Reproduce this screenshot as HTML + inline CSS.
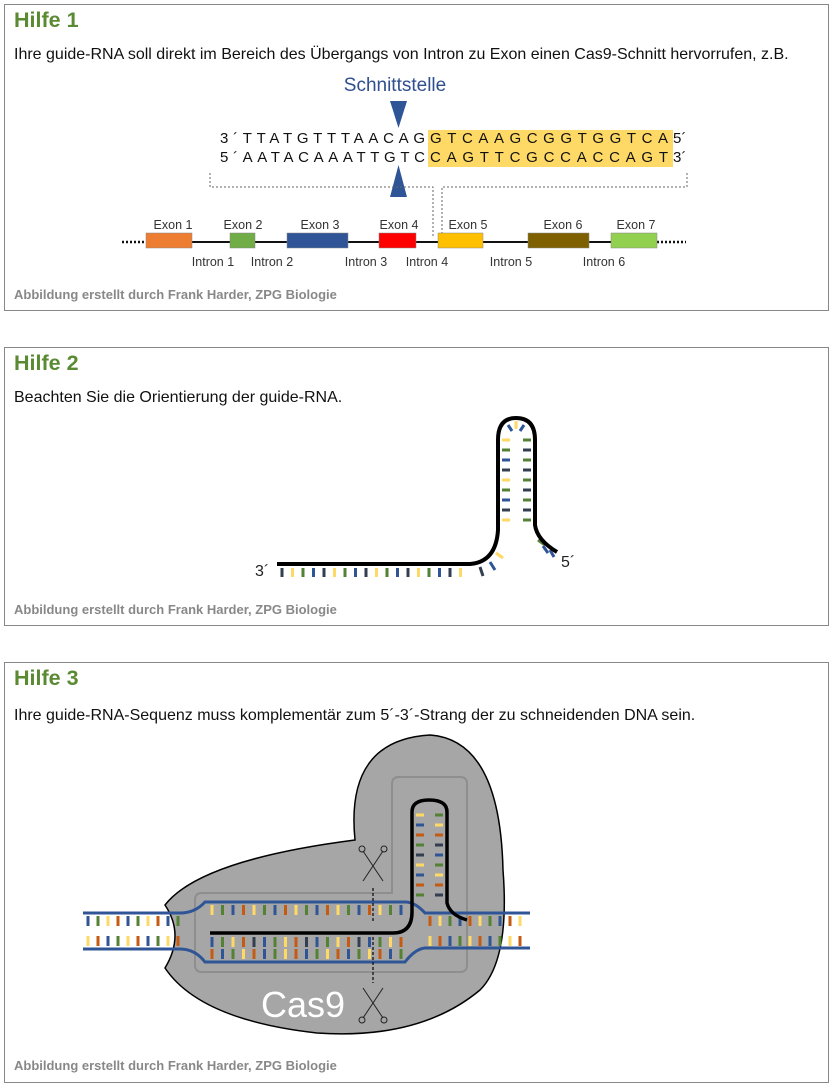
<!DOCTYPE html>
<html><head><meta charset="utf-8">
<style>
body{margin:0;background:#fff;font-family:"Liberation Sans",sans-serif;}
.box{position:absolute;left:4px;width:825px;border:1px solid #888;box-sizing:border-box;}
.t{position:absolute;left:9px;font-weight:bold;font-size:21.5px;color:#5a8a32;}
.p{position:absolute;left:9px;font-size:16px;color:#111;}
.c{position:absolute;left:9px;font-size:13px;font-weight:bold;color:#888;}
svg{position:absolute;left:0;top:0;}
</style></head><body>
<div class="box" style="top:4px;height:307px"><div class="t" style="top:3px">Hilfe 1</div><div class="p" style="top:41px">Ihre guide-RNA soll direkt im Bereich des Übergangs von Intron zu Exon einen Cas9-Schnitt hervorrufen, z.B.</div><div class="c" style="top:282px">Abbildung erstellt durch Frank Harder, ZPG Biologie</div></div>
<div class="box" style="top:347px;height:279px"><div class="t" style="top:3px">Hilfe 2</div><div class="p" style="top:41px">Beachten Sie die Orientierung der guide-RNA.</div><div class="c" style="top:254px">Abbildung erstellt durch Frank Harder, ZPG Biologie</div></div>
<div class="box" style="top:662px;height:421px"><div class="t" style="top:3px">Hilfe 3</div><div class="p" style="top:44px">Ihre guide-RNA-Sequenz muss komplementär zum 5´-3´-Strang der zu schneidenden DNA sein.</div><div class="c" style="top:395px">Abbildung erstellt durch Frank Harder, ZPG Biologie</div></div>

<svg width="835" height="1088" id="s" font-family="Liberation Sans, sans-serif">
<!-- Hilfe 1 -->
<text x="395" y="91" font-size="19" fill="#2f4f8f" text-anchor="middle">Schnittstelle</text>
<polygon points="390,101 407,101 398.5,128" fill="#2f5597"/>
<polygon points="390,197 407,197 398.5,165" fill="#2f5597"/>
<rect x="428" y="130" width="245" height="37" fill="#ffd966"/>
<g font-size="15" fill="#111">
<text x="220" y="143" textLength="205" lengthAdjust="spacing">3´TTATGTTTAACAG</text>
<text x="430" y="143" textLength="238" lengthAdjust="spacing">GTCAAGCGGTGGTCA</text>
<text x="673" y="143">5´</text>
<text x="220" y="162" textLength="205" lengthAdjust="spacing">5´AATACAAATTGTC</text>
<text x="430" y="162" textLength="238" lengthAdjust="spacing">CAGTTCGCCACCAGT</text>
<text x="673" y="162">3´</text>
</g>
<g stroke="#666" stroke-dasharray="2,2" fill="none" stroke-width="1">
<path d="M210,173 V187 H433 V238"/><path d="M687,173 V187 H442 V243"/>
</g>
<line x1="122" y1="242" x2="146" y2="242" stroke="#111" stroke-width="2.5" stroke-dasharray="2,2"/>
<line x1="146" y1="242" x2="657" y2="242" stroke="#111" stroke-width="2"/>
<line x1="657" y1="242" x2="686" y2="242" stroke="#111" stroke-width="2.5" stroke-dasharray="2,2"/>
<g stroke="#888" stroke-width="0.5">
<rect x="146" y="233" width="46" height="15" fill="#ed7d31"/>
<rect x="230" y="233" width="25" height="15" fill="#70ad47"/>
<rect x="287" y="233" width="61" height="15" fill="#2f5597"/>
<rect x="379" y="233" width="37" height="15" fill="#ff0000"/>
<rect x="438" y="233" width="45" height="15" fill="#ffc000"/>
<rect x="528" y="233" width="61" height="15" fill="#7f6000"/>
<rect x="611" y="233" width="46" height="15" fill="#92d050"/>
</g>
<g font-size="12.5" fill="#333" text-anchor="middle">
<text x="173" y="229">Exon 1</text><text x="243" y="229">Exon 2</text><text x="320" y="229">Exon 3</text><text x="399" y="229">Exon 4</text><text x="468" y="229">Exon 5</text><text x="563" y="229">Exon 6</text><text x="636" y="229">Exon 7</text>
<text x="213" y="266">Intron 1</text><text x="272" y="266">Intron 2</text><text x="366" y="266">Intron 3</text><text x="427" y="266">Intron 4</text><text x="511" y="266">Intron 5</text><text x="604" y="266">Intron 6</text>
</g>
<!-- Hilfe 2 -->
<g id="t2"></g>
<path d="M277,564 H470 Q496,562 498,530 V440 Q498,418 516,418 Q535,418 535,440 V525 Q537,540 557,552" stroke="#000" stroke-width="4" fill="none"/>
<text x="255" y="576" font-size="16" fill="#222">3´</text>
<text x="561" y="567" font-size="16" fill="#222">5´</text>
<!-- Hilfe 3 -->
<path d="M165,905 Q200,860 355,840 Q345,740 430,735 Q500,740 503,870 Q510,960 480,990 Q420,1040 317,1033 Q200,1020 165,968 Q185,935 165,905 Z" fill="#a6a6a6" stroke="#000" stroke-width="1.5"/>
<path d="M195,900 Q195,893 202,893 H392 V784 Q392,777 399,777 H460 Q467,777 467,784 V965 Q467,972 460,972 H202 Q195,972 195,965 Z" fill="none" stroke="#8e8e8e" stroke-width="2"/>
<g id="t3"></g>
<path d="M83,913 H180 Q195,913 205,902 H405 Q415,902 425,913 H530" stroke="#2f5597" stroke-width="3" fill="none"/>
<path d="M83,949 H180 Q195,949 205,962 H405 Q415,949 425,948 H530" stroke="#2f5597" stroke-width="3" fill="none"/>
<path d="M210,933 H393 Q412,933 412,912 V812 Q412,800 429,800 Q447,800 447,812 V903 Q450,915 467,920" stroke="#000" stroke-width="3.5" fill="none"/>
<g stroke="#111" stroke-width="1.3" stroke-dasharray="3,2"><line x1="373" y1="888" x2="373" y2="923"/><line x1="373" y1="937" x2="373" y2="983"/></g>
<g stroke="#222" fill="none" stroke-width="1">
<path d="M363,851 L383,881 M383,851 L363,881"/><circle cx="362" cy="849" r="3"/><circle cx="384" cy="849" r="3"/>
<path d="M363,1018 L383,988 M383,1018 L363,988"/><circle cx="362" cy="1020" r="3"/><circle cx="384" cy="1020" r="3"/>
</g>
<text x="261" y="1017" font-size="36" fill="#fff">Cas9</text>
</svg>
<script>
var C=["#2f5597","#548235","#ffd966","#c55a11","#333f50"];
var NS="http://www.w3.org/2000/svg";
function L(g,x1,y1,x2,y2,c){var l=document.createElementNS(NS,"line");l.setAttribute("x1",x1);l.setAttribute("y1",y1);l.setAttribute("x2",x2);l.setAttribute("y2",y2);l.setAttribute("stroke",c);l.setAttribute("stroke-width","3");g.appendChild(l);}
var g2=document.getElementById("t2"),k=0;
var C2=["#2f5597","#548235","#ffd966","#333f50"];
for(var x=282;x<470;x+=10.5){L(g2,x,568,x,577,C2[(k*7+3)%4]);k++;}
for(var y=440;y<530;y+=10){L(g2,502,y,510,y,C2[(k*3)%4]);L(g2,523,y,531,y,C2[(k*2+1)%4]);k++;}
L(g2,508,425,512,431,C[0]);L(g2,516,421,516,429,C[2]);L(g2,524,425,520,431,C[0]);
L(g2,480,567,483,576,C[4]);L(g2,490,562,495,570,C[0]);L(g2,496,553,503,558,C[2]);
L(g2,538,540,545,545,C[1]);L(g2,543,546,548,553,C[0]);L(g2,550,550,554,557,C[0]);
var g3=document.getElementById("t3");k=0;
for(var x=88;x<180;x+=10){L(g3,x,916,x,926,C[k%4]);L(g3,x,936,x,946,C[(k+2)%4]);k++;}
for(var x=212;x<405;x+=10.5){L(g3,x,905,x,915,C[(k*3)%4]);L(g3,x,937,x,947,C[k%5]);L(g3,x,949,x,959,C[(k+1)%4]);k++;}
for(var x=430;x<528;x+=10){L(g3,x,916,x,926,C[(k*3)%4]);L(g3,x,936,x,946,C[(k+1)%4]);k++;}
for(var y=815;y<900;y+=10){L(g3,416,y,424,y,C[(k*3)%5]);L(g3,435,y,443,y,C[(k+2)%5]);k++;}
</script>
</body></html>
